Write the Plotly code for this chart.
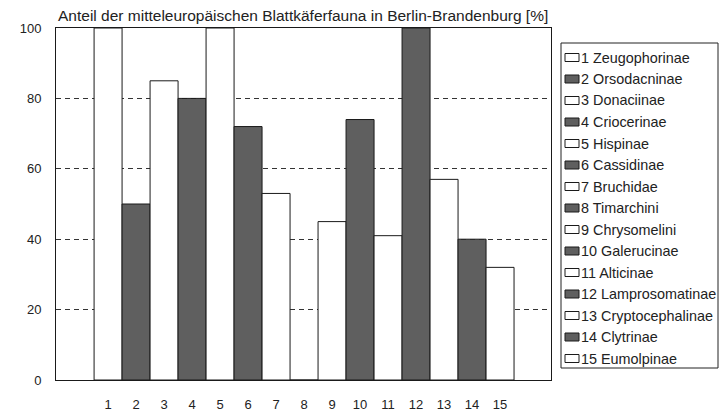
import plotly.graph_objects as go

numbers = list(range(1, 16))
names = ["Zeugophorinae", "Orsodacninae", "Donaciinae", "Criocerinae", "Hispinae",
         "Cassidinae", "Bruchidae", "Timarchini", "Chrysomelini", "Galerucinae",
         "Alticinae", "Lamprosomatinae", "Cryptocephalinae", "Clytrinae", "Eumolpinae"]
values = [100, 50, 85, 80, 100, 72, 53, 0, 45, 74, 41, 100, 57, 40, 32]
y_ticks = [0, 20, 40, 60, 80, 100]

WHITE = "#ffffff"
DARK = "#5f5f5f"
EDGE = "#1a1a1a"
FONT = "Liberation Sans, Arial, sans-serif"
TXT = "#222222"

W, H = 721, 412
L, R, T, B = 56, 170, 28, 32
PW, PH = W - L - R, H - T - B


def px_x(px):
    return (px - L) / PW


def px_y(py):
    return (H - B - py) / PH


fills = [WHITE if n % 2 == 1 else DARK for n in numbers]

fig = go.Figure()
fig.add_trace(go.Bar(
    x=numbers, y=values, width=1.0,
    text=[f"{n} {nm}" for n, nm in zip(numbers, names)],
    hovertemplate="%{text}: %{y}%<extra></extra>", textposition="none",
    marker=dict(color=fills, line=dict(color=EDGE, width=1)),
    showlegend=False,
))

# legend box drawn as layout elements (paper coordinates)
shapes = [dict(type="rect", xref="paper", yref="paper",
               x0=px_x(561), x1=px_x(718), y0=px_y(368), y1=px_y(43),
               line=dict(color=TXT, width=1), fillcolor="white", layer="above")]
annotations = []
for i, (n, nm, fc) in enumerate(zip(numbers, names, fills)):
    yc = 57.5 + 21.5 * i
    shapes.append(dict(type="rect", xref="paper", yref="paper",
                       x0=px_x(565), x1=px_x(579), y0=px_y(yc + 4), y1=px_y(yc - 4),
                       line=dict(color=EDGE, width=1), fillcolor=fc, layer="above"))
    annotations.append(dict(xref="paper", yref="paper", x=px_x(579), y=px_y(yc),
                            xanchor="left", yanchor="middle", showarrow=False,
                            text=f"{n} {nm}", font=dict(family=FONT, size=14.4, color=TXT)))

fig.update_layout(
    width=W, height=H,
    margin=dict(l=L, r=R, t=T, b=B, autoexpand=False),
    plot_bgcolor="white", paper_bgcolor="white",
    font=dict(family=FONT, size=13, color=TXT),
    title=dict(text="Anteil der mitteleuropäischen Blattkäferfauna in Berlin-Brandenburg [%]",
               x=px_x(58), xref="paper", xanchor="left", y=1 - 16 / H, yref="container",
               yanchor="middle", font=dict(family=FONT, size=15.5, color=TXT)),
    showlegend=False,
    shapes=shapes,
    annotations=annotations,
)
fig.update_xaxes(range=[-0.86, 16.82], tickvals=numbers, ticktext=[str(n) for n in numbers],
                 showgrid=False, zeroline=False, showline=True, linecolor=EDGE, linewidth=1,
                 mirror=True, ticks="outside", ticklen=12, tickcolor="rgba(0,0,0,0)",
                 tickfont=dict(size=13, color=TXT))
fig.update_yaxes(range=[0, 100], tickvals=y_ticks, showgrid=True, gridcolor="#333333",
                 griddash="5px,4px", gridwidth=1, zeroline=False, showline=True, linecolor=EDGE,
                 linewidth=1, mirror=True, ticks="outside", ticklen=11,
                 tickcolor="rgba(0,0,0,0)", tickfont=dict(size=13, color=TXT))

fig.write_html("out.html", config={"displayModeBar": False},
               post_script="document.body.style.margin='0';")
